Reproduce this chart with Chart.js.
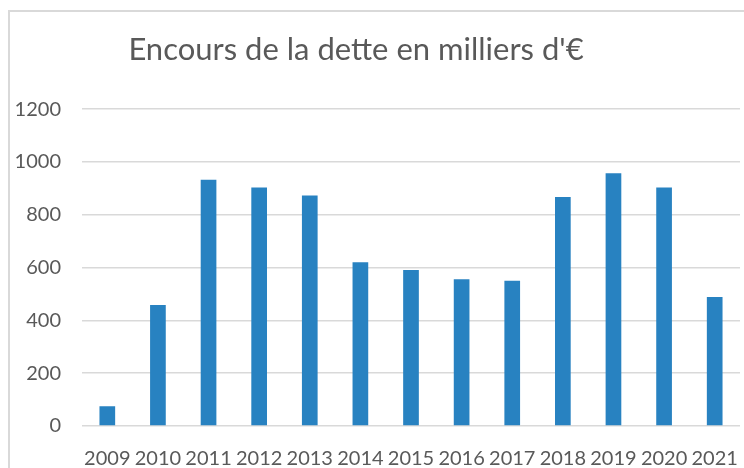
<!DOCTYPE html>
<html>
<head>
<meta charset="utf-8">
<title>Encours de la dette</title>
<script src="https://cdn.jsdelivr.net/npm/chart.js@4"></script>
<style>
  body { margin: 0; background: #fff; }
  #frame {
    position: absolute;
    left: 8px;
    top: 10px;
    width: 734px;
    height: 456px;
    border-left: 2px solid #d9d9d9;
    border-top: 2px solid #d9d9d9;
    overflow: hidden;
  }
  /* canvas starts left of the frame so the title centre lines up with the reference */
  #detteChart { display: block; margin-left: -38px; }
</style>
</head>
<body>
<div id="frame"><canvas id="detteChart" width="772" height="456"></canvas></div>
<script>
const years = ["2009", "2010", "2011", "2012", "2013", "2014", "2015", "2016", "2017", "2018", "2019", "2020", "2021"];
const encours = [75, 458, 933, 903, 873, 620, 591, 556, 550, 867, 957, 903, 489];
const yTicks = [0, 200, 400, 600, 800, 1000, 1200];

document.addEventListener("DOMContentLoaded", function () {
  const textColor = "#595959";
  const ctx = document.getElementById("detteChart").getContext("2d");

  new Chart(ctx, {
    type: "bar",
    data: {
      labels: years,
      datasets: [
        {
          label: "Encours",
          data: encours,
          backgroundColor: "#2882c1",
          barPercentage: 0.31,
          categoryPercentage: 1,
        },
      ],
    },
    options: {
      responsive: false,
      animation: false,
      layout: { padding: { left: 0, right: 4, top: 0, bottom: 0 } },
      plugins: {
        legend: { display: false },
        tooltip: { enabled: false },
        title: {
          display: true,
          text: "Encours de la dette en milliers d'€",
          color: textColor,
          font: { family: "Lato", size: 31, weight: "normal" },
          padding: { top: 19, bottom: 41 },
        },
      },
      scales: {
        x: {
          grid: { display: false },
          border: { display: false },
          ticks: {
            color: textColor,
            font: { family: "Lato", size: 20 },
            autoSkip: false,
            maxRotation: 0,
            minRotation: 0,
            padding: 13,
          },
          afterFit: (axis) => {
            axis.height = 42;
            axis.paddingLeft = 0;
            axis.paddingRight = 0;
          },
        },
        y: {
          min: 0,
          max: 1200,
          afterBuildTicks: (axis) => {
            axis.ticks = yTicks.map((v) => ({ value: v }));
          },
          grid: { color: "#d9d9d9", lineWidth: 1.5, drawTicks: false },
          border: { display: false },
          ticks: {
            color: textColor,
            font: { family: "Lato", size: 20 },
            padding: 21,
            callback: (v) => String(v),
          },
          afterFit: (axis) => {
            axis.width = 110;
          },
        },
      },
    },
  });
});
</script>
</body>
</html>
